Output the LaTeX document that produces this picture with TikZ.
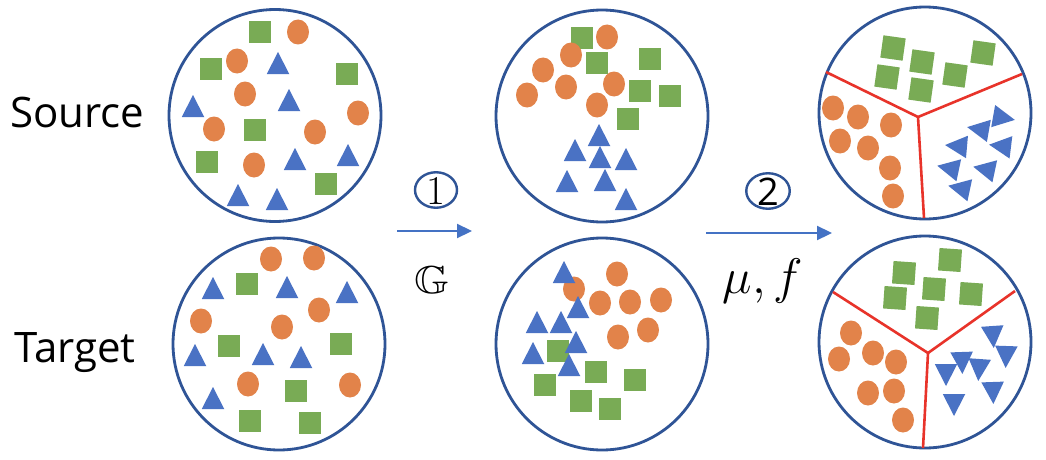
\documentclass[tikz,border=0pt]{standalone}
\usepackage{fix-cm}
\usepackage{fontspec}
\usepackage{amssymb}
\newfontfamily\labelfont{Open Sans}
\usetikzlibrary{shapes.geometric,arrows.meta}
\definecolor{sqgreen}{HTML}{79AB55}
\definecolor{dotorange}{HTML}{E2834A}
\definecolor{triblue}{HTML}{4A72C4}
\definecolor{ringblue}{HTML}{2F5496}
\definecolor{sepred}{HTML}{E8332A}
\definecolor{arrblue}{HTML}{4472C4}
\tikzset{
  bigc/.style={circle, draw=ringblue, line width=2.8pt, minimum size=212pt, inner sep=0pt},
  sq/.style={fill=sqgreen, minimum size=22.5pt, inner sep=0pt},
  dot/.style={ellipse, fill=dotorange, minimum width=22pt, minimum height=25pt, inner sep=0pt},
  pics/tri/.style={code={\fill[triblue] (-11.25,11) -- (11.25,11) -- (0,-11) -- cycle;}},
  sepline/.style={draw=sepred, line width=2.6pt},
  flow/.style={draw=arrblue, line width=2.2pt, -{Triangle[length=15pt,width=14pt]}},
  stepmark/.style={ellipse, draw=ringblue, line width=2.4pt, minimum width=42pt, minimum height=35.5pt, inner sep=0pt},
  sidelabel/.style={font=\labelfont\fontsize{42}{42}\selectfont, anchor=base west, inner sep=0pt},
  bigtext/.style={font=\fontsize{20}{22}\selectfont, inner sep=0pt},
}
\begin{document}
\begin{tikzpicture}[x=1pt,y=-1pt]
\useasboundingbox (0,0) rectangle (1046,460);
\fill[white] (0,0) rectangle (1046,460);
% big circles
\node[bigc] (C1) at (275,115.5) {};
\node[bigc] (C2) at (279,344) {};
\node[bigc] (C3) at (602,116) {};
\node[bigc] (C4) at (602,344) {};
\node[bigc] (C5) at (925,113) {};
\node[bigc] (C6) at (925,342) {};
% labels
\node[sidelabel] (src) at (10,127) {Source};
\node[sidelabel] (tgt) at (14,362) {Target};
% ---- circle 1
\foreach \p [count=\i] in {(260,32),(211,69),(347,74),(255,130),(207,162),(326,184)}
  \node[sq] (a-q\i) at \p {};
\foreach \p [count=\i] in {(298,32),(237,61),(245,94),(358,113),(214,129),(315,132),(254,165)}
  \node[dot] (a-d\i) at \p {};
\foreach \p in {(278,63),(289,100),(193,106),(295,159),(348,155),(238,195),(277,199)}
  \pic at \p {tri};
% ---- circle 2
\foreach \p [count=\i] in {(247,284),(229,346),(341,344),(296,391),(250,421),(310,423)}
  \node[sq] (b-q\i) at \p {};
\foreach \p [count=\i] in {(271,259),(314,258),(319,310),(201,321),(282,327),(248,384),(350,385)}
  \node[dot] (b-d\i) at \p {};
\foreach \p in {(213,288),(287,287),(347,292),(195,355),(263,354),(301,357),(213,398)}
  \pic at \p {tri};
% ---- circle 3
\foreach \p [count=\i] in {(582,38),(597,63),(650,59),(640,91),(670,96),(628,119)}
  \node[sq] (c-q\i) at \p {};
\foreach \p [count=\i] in {(607,37),(571,55),(543,70),(527,95),(566,87),(614,84),(597,105)}
  \node[dot] (c-d\i) at \p {};
\foreach \p in {(599,135),(575,150),(600,157),(626,159),(567,181),(605,180),(626,199)}
  \pic at \p {tri};
% ---- circle 4
\foreach \p [count=\i] in {(558,351),(596,372),(635,380),(545,385),(581,401),(610,409)}
  \node[sq] (d-q\i) at \p {};
\foreach \p [count=\i] in {(574,289),(617,274),(600,303),(630,302),(661,300),(618,337),(648,330)}
  \node[dot] (d-d\i) at \p {};
\foreach \p in {(564,272),(578,307),(537,322),(561,322),(576,342),(533,353),(569,365)}
  \pic at \p {tri};
% ---- circle 5
\coordinate (e-c) at (918,117);
\coordinate (e-l) at (826,72);
\coordinate (e-r) at (1022,74);
\coordinate (e-b) at (924,218);
\draw[sepline] (e-l) -- (e-c) -- (e-r);
\draw[sepline] (e-c) -- (e-b);
\foreach \p [count=\i] in {(893,48),(922,62),(983,53),(887,77),(921,90),(955,75)}
  \node[sq, rotate=-8] (e-q\i) at \p {};
\foreach \p [count=\i] in {(833,108),(858,117),(891,125),(840,141),(868,148),(890,168),(893,196)}
  \node[dot] (e-d\i) at \p {};
\foreach \x/\y/\r in {1004/118/-100, 978/129/80, 1000/146/83, 956/146/85, 948/168/78, 984/169/78, 959/188/78}
  \pic[rotate=\r] at (\x,\y) {tri};
% ---- circle 6
\coordinate (f-c) at (928,353);
\coordinate (f-l) at (833,292);
\coordinate (f-r) at (1015,291);
\coordinate (f-b) at (923,448);
\draw[sepline] (f-l) -- (f-c) -- (f-r);
\draw[sepline] (f-c) -- (f-b);
\foreach \p [count=\i] in {(904,273),(950,260),(934,289),(895,298),(971,294),(927,318)}
  \node[sq, rotate=-4] (f-q\i) at \p {};
\foreach \p [count=\i] in {(851,333),(873,353),(896,362),(839,359),(868,393),(894,391),(903,420)}
  \node[dot] (f-d\i) at \p {};
\foreach \x/\y/\r in {993/337/184, 1006/357/178, 962/363/182, 946/375/180, 979/370/176, 993/393/182, 954/405/180}
  \pic[rotate=\r] at (\x,\y) {tri};
% ---- step 1
\coordinate (a1s) at (397,231);
\coordinate (a1e) at (472,231);
\draw[flow] (a1s) -- (a1e);
\node[stepmark] (m1) at (436,190) {};
\node[font=\fontsize{41}{41}\selectfont, inner sep=0pt] (n1) at (436,191) {1};
\node[bigtext, xscale=2.25, yscale=1.95] (gop) at (432,280) {$\mathbb{G}$};
% ---- step 2
\coordinate (a2s) at (706,233);
\coordinate (a2e) at (832,233);
\draw[flow] (a2s) -- (a2e);
\node[stepmark, minimum width=43.5pt] (m2) at (768,191) {};
\node[font=\labelfont\fontsize{38}{38}\selectfont, inner sep=0pt] (n2) at (768,192) {2};
\node[bigtext, scale=2.5] (muf) at (763,281) {$\mu,f$};
\end{tikzpicture}
\end{document}
